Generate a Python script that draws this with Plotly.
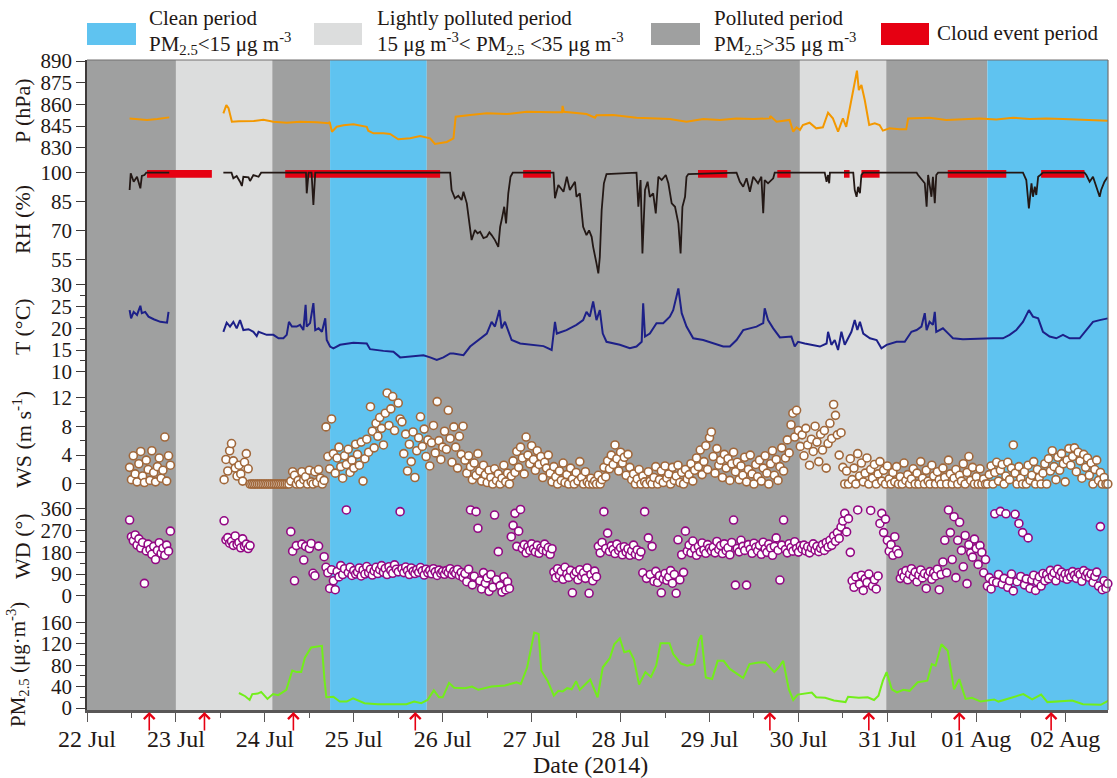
import plotly.graph_objects as go
import pandas as pd

# ---------------- DATA (hours since 22 Jul 2014 00:00) ----------------
BASE = pd.Timestamp("2014-07-22 00:00")

# background periods: (start_h, end_h, kind)
periods = [(0, 24, "polluted"), (24, 50, "light"), (50, 65.6, "polluted"), (65.6, 91.7, "clean"),
           (91.7, 192.4, "polluted"), (192.4, 215.7, "light"), (215.7, 243.0, "polluted"),
           (243.0, 275.55, "clean")]

# cloud events (start_h, end_h)
cloud_events = [(16.2, 33.7), (53.5, 95.3), (117.7, 125.2), (164.9, 172.8), (186.3, 189.9),
                (204.3, 205.8), (209.0, 213.9), (232.3, 248.1), (257.5, 269.2)]

# sampling arrows (hours)
arrow_hours = [16.8, 31.7, 55.7, 88.6, 184.3, 211.0, 235.4, 260.2]

# Pressure (hPa)
p_data = [(11.5, 850.3), (13, 849.8), (16.2, 849.2), (19, 849.8), (22.2, 851.0), (22.6, None),
          (36.8, 853.8), (37.6, 859.5), (38.2, 857.3), (39.1, 848.0), (41, 848.3), (45, 848.5),
          (47.6, 849.3), (50.3, 848.0), (53.9, 847.3), (57.5, 848.0), (62, 847.6), (65.2, 846.9),
          (65.5, 847.8), (66.1, 841.1), (67.4, 844.5), (69.2, 845.6), (71.9, 846.2), (75.5, 844.5),
          (75.9, 841.8), (77.3, 840.0), (80, 840.0), (81.8, 839.5), (84, 835.8), (87.2, 836.5),
          (89.9, 838.1), (92.6, 836.5), (93.9, 832.6), (97.1, 834.0), (98.9, 836.5), (99.5, 851.5),
          (103.4, 852.6), (107.9, 853.8), (113.3, 853.3), (118.7, 854.9), (125.8, 854.5),
          (128.2, 854.6), (128.35, 858.9), (128.7, 854.9), (134.8, 853.3), (137.1, 850.8),
          (137.5, 852.4), (142, 852.6), (148.3, 850.8), (152.8, 850.3), (157.3, 849.9),
          (161.8, 848.0), (166.3, 849.9), (170.8, 849.2), (175.3, 850.3), (179.8, 849.9),
          (184.3, 850.3), (184.4, 851.9), (186.1, 848.0), (189.6, 849.2), (190.6, 841.1),
          (191.5, 844.1), (192.4, 842.2), (193.2, 845.7), (195.0, 847.3), (196.8, 843.4),
          (198.6, 844.1), (200.0, 854.2), (201.3, 850.3), (202.7, 841.1), (204.0, 850.3),
          (204.9, 844.5), (206.3, 863.0), (207.2, 873.4), (207.8, 883.3), (208.3, 869.9),
          (209.0, 873.4), (209.9, 863.0), (211.1, 845.7), (212.6, 846.9), (213.9, 845.7),
          (214.8, 841.8), (216.6, 843.4), (219.3, 842.7), (221.1, 842.7), (221.6, 850.3),
          (227.4, 850.8), (231.9, 849.2), (236.4, 849.9), (240.9, 850.3), (245.4, 849.5),
          (249.9, 850.8), (254.4, 849.9), (258.9, 850.3), (263.4, 849.9), (267.9, 849.5),
          (272.4, 849.2), (275.5, 848.7)]

# Relative humidity (%)
rh_data = [(11.5, 91.0), (11.8, 99.7), (12.6, 95.3), (13.5, 97.9), (14.4, 91.9), (14.8, 98.3),
           (15.5, 98.8), (16.0, 100), (22.2, 100), (22.6, None),
           (36.8, 100), (39.0, 100), (39.5, 97.1), (40.4, 98.3), (41.3, 95.3), (41.8, 93.1),
           (42.2, 97.9), (43.6, 97.6), (44.0, 95.7), (44.9, 98.8), (46.3, 97.9), (47.0, 100),
           (59.1, 100), (59.3, 89.3), (59.8, 100), (60.6, 100), (61.1, 83.2), (61.6, 100),
           (98.0, 100), (98.4, 91.0), (99.3, 86.7), (100.2, 88.0), (101.1, 85.8), (101.6, 90.1),
           (102.5, 84.1), (103.4, 71.9), (103.8, 65.0), (104.7, 70.2), (105.4, 68.5), (106.1, 69.3),
           (107.0, 66.0), (107.9, 66.7), (108.6, 69.0), (109.2, 67.6), (110.1, 65.0), (111.0, 61.5),
           (111.5, 71.9), (111.9, 75.4), (112.6, 82.3), (113.1, 73.7), (113.7, 89.3), (114.3, 97.9),
           (114.9, 100), (125.9, 100), (126.3, 86.7), (127.2, 93.6), (128.6, 90.1), (129.5, 97.9),
           (130.3, 91.0), (131.7, 95.3), (132.1, 87.5), (133.0, 89.3), (133.9, 71.9), (134.8, 67.6),
           (135.5, 70.0), (136.2, 66.7), (136.6, 61.5), (137.5, 52.9), (138.0, 47.7), (138.4, 56.3),
           (138.9, 80.6), (139.5, 94.5), (140.2, 99.3), (148.3, 100), (148.8, 82.3), (149.4, 96.2),
           (149.9, 58.1), (150.6, 91.0), (151.3, 95.3), (151.9, 87.5), (152.8, 89.3), (153.5, 78.9),
           (154.2, 97.9), (155.1, 96.2), (156.2, 98.8), (156.9, 94.5), (157.8, 84.1), (158.7, 82.3),
           (159.6, 73.7), (160.2, 58.1), (160.7, 82.3), (161.4, 87.5), (161.8, 97.9), (162.3, 99.3),
           (175.3, 100), (176.2, 95.3), (177.1, 92.7), (178.0, 97.1), (178.9, 90.1), (179.8, 97.9),
           (181.1, 94.5), (182.0, 97.9), (182.5, 78.9), (182.9, 96.2), (183.8, 94.5), (185.2, 97.1),
           (185.6, 100), (199.1, 100), (199.6, 95.3), (200.0, 98.8), (200.3, 94.5), (200.5, 100),
           (206.8, 100), (207.2, 91.0), (207.7, 87.5), (208.1, 92.7), (208.6, 89.3), (209.0, 98.8),
           (209.5, 100), (223.9, 100), (224.3, 98.8), (226.1, 94.5), (226.6, 82.3), (227.0, 98.8),
           (227.9, 87.5), (228.3, 97.9), (228.8, 84.1), (229.2, 98.8), (229.7, 100), (252.6, 100),
           (253.5, 96.2), (254.2, 81.5), (254.9, 94.5), (255.3, 87.5), (255.8, 92.7), (256.2, 88.4),
           (256.7, 97.9), (257.3, 98.8), (258.0, 100), (269.2, 100), (269.7, 98.8), (270.6, 95.3),
           (271.5, 97.9), (272.4, 92.7), (273.3, 87.5), (273.7, 91.0), (274.6, 95.3), (275.5, 97.9)]

# Temperature (deg C)
t_data = [(11.5, 24.2), (11.9, 22.3), (12.6, 23.8), (13.5, 23.1), (14.4, 25.2), (14.8, 23.5),
          (15.7, 23.8), (16.6, 22.7), (18.0, 22.1), (19.8, 21.5), (21.6, 21.3), (22.0, 23.8), (22.4, None),
          (36.8, 19.2), (37.7, 21.3), (38.6, 20.4), (39.5, 21.5), (40.4, 20.0), (41.3, 21.9), (42.2, 19.6),
          (43.6, 19.8), (44.9, 19.2), (45.8, 18.2), (46.3, 19.2), (47.6, 18.8), (48.5, 18.5), (50.3, 18.5),
          (51.7, 17.7), (53.0, 17.7), (53.9, 18.5), (54.5, 21.5), (55.3, 20.4), (56.6, 20.4), (57.5, 20.8),
          (58.4, 19.6), (59.0, 25.4), (59.3, 20.4), (60.2, 21.2), (61.1, 25.8), (61.6, 19.6), (62.5, 20.0),
          (63.4, 19.2), (64.3, 22.3), (64.7, 17.3), (65.6, 15.8), (66.5, 15.4), (68.3, 16.2), (71.9, 16.7),
          (75.5, 16.5), (76.4, 15.2), (80.0, 14.8), (82.7, 14.6), (84.5, 13.3), (88.1, 13.6), (90.8, 13.8),
          (92.6, 13.3), (94.4, 12.7), (96.2, 13.3), (98.0, 14.2), (98.9, 14.2), (101.6, 13.8),
          (103.4, 15.8), (106.1, 17.7), (107.9, 18.8), (109.2, 21.5), (110.1, 20.4), (111.3, 24.2),
          (111.9, 20.0), (112.8, 21.5), (113.7, 19.6), (114.6, 17.3), (116.9, 16.5), (120.5, 16.2),
          (123.2, 15.9), (125.4, 15.0), (126.3, 21.5), (126.8, 18.8), (129.4, 19.6), (132.1, 20.8),
          (133.9, 21.9), (134.8, 23.8), (135.7, 22.7), (136.6, 26.2), (137.5, 21.9), (138.4, 24.2),
          (139.2, 18.8), (140.2, 16.9), (143.8, 16.2), (146.5, 15.4), (148.3, 15.8), (149.7, 16.9),
          (150.1, 25.8), (150.6, 18.1), (151.9, 18.8), (153.7, 21.2), (155.5, 21.2), (157.3, 22.7),
          (158.2, 24.2), (159.6, 29.2), (160.5, 23.5), (161.8, 20.4), (163.6, 17.7), (166.3, 17.3),
          (169.0, 16.5), (171.7, 15.8), (173.5, 15.8), (175.3, 17.3), (177.1, 19.6), (178.9, 20.0),
          (180.7, 20.4), (182.5, 21.2), (182.9, 24.6), (183.8, 21.9), (185.2, 20.0), (187.0, 17.9),
          (190.1, 18.1), (191.0, 15.8), (191.9, 16.9), (193.7, 16.5), (196.0, 16.2), (197.8, 15.8),
          (199.6, 16.5), (200.0, 19.2), (200.9, 16.2), (201.8, 17.3), (202.7, 15.0), (203.6, 19.2),
          (204.5, 16.2), (205.4, 17.7), (206.3, 19.2), (207.2, 21.9), (207.9, 19.6), (208.6, 21.5),
          (209.5, 18.8), (211.3, 17.7), (213.1, 17.3), (214.4, 15.4), (215.8, 16.2), (218.5, 16.9),
          (220.7, 16.9), (222.5, 19.2), (223.9, 19.6), (225.2, 20.4), (226.1, 23.5), (226.6, 19.6),
          (227.4, 21.5), (228.3, 20.8), (228.8, 23.8), (229.2, 19.2), (231.0, 20.0), (232.8, 18.5),
          (233.7, 17.7), (236.4, 17.5), (240.9, 17.7), (244.5, 17.7), (247.2, 17.7), (249.0, 18.5),
          (250.8, 19.6), (252.6, 21.5), (254.2, 24.2), (255.3, 22.7), (256.7, 22.3), (258.0, 19.2),
          (259.8, 18.1), (261.6, 17.7), (263.4, 18.5), (265.2, 17.7), (267.9, 17.7), (269.7, 19.6),
          (271.5, 21.5), (273.3, 21.9), (275.5, 22.3)]

# PM2.5 (ug m-3)
pm_data = [(41.0, 28), (42.7, 22), (43.9, 15), (44.6, 26), (46.1, 27), (47.0, 30), (48.7, 17),
           (50.2, 26), (51.6, 24), (53.8, 34), (55.4, 70), (56.6, 67), (57.8, 67), (58.8, 94),
           (60.5, 113), (63.4, 116), (64.1, 52), (64.6, 20), (66.5, 21), (68.2, 12), (70.1, 12),
           (71.8, 18), (74.9, 9), (78.5, 7), (86.2, 7), (88.3, 12), (90.2, 9), (91.9, 15), (93.6, 33),
           (95.0, 20), (96.0, 20), (97.7, 47), (99.1, 38), (102.0, 37), (103.9, 40), (105.6, 34),
           (109.2, 40), (112.8, 42), (115.9, 48), (117.1, 45), (118.8, 76), (120.7, 141), (121.9, 138),
           (122.6, 70), (124.3, 51), (126.0, 23), (127.2, 32), (128.4, 31), (129.6, 37), (130.8, 35),
           (132.0, 50), (133.0, 34), (135.8, 53), (137.8, 20), (139.2, 76), (141.1, 93), (142.3, 119),
           (143.8, 130), (145.0, 104), (146.4, 107), (147.6, 91), (149.0, 44), (150.7, 67), (152.2, 58),
           (153.6, 79), (154.8, 121), (157.2, 121), (158.2, 101), (160.3, 83), (162.0, 79), (163.9, 82),
           (165.1, 126), (165.8, 136), (167.0, 57), (168.7, 54), (170.2, 88), (171.8, 88), (173.5, 73),
           (177.1, 56), (178.8, 82), (181.2, 85), (183.1, 85), (185.5, 67), (186.7, 76), (187.9, 88),
           (189.4, 35), (190.6, 15), (191.8, 25), (195.6, 29), (196.8, 20), (199.2, 19), (201.6, 14),
           (204.7, 11), (205.4, 21), (208.3, 19), (210.7, 20), (212.4, 15), (213.6, 23), (214.8, 51),
           (215.8, 67), (217.2, 35), (218.6, 29), (220.3, 34), (222.0, 32), (224.2, 48), (226.8, 51),
           (228.0, 82), (229.0, 79), (230.6, 119), (232.3, 107), (234.0, 35), (235.4, 54), (237.1, 17),
           (238.8, 19), (241.2, 12), (244.8, 16), (246.0, 12), (249.1, 19), (252.7, 26), (255.1, 16),
           (257.5, 25), (259.2, 11), (265.9, 14), (268.8, 7), (273.6, 6), (275.8, 14)]

# Wind speed (m/s), 30-min samples. Segment 1 starts 22 Jul 11:30, segment 2 starts 23 Jul 13:00
ws_seg1_start, ws_seg2_start = 11.5, 37.0
ws_seg1 = [2.3, 0.6, 3.9, 1.4, 0.3, 2.8, 4.5, 1.1, 0.2, 3.3, 2.0, 0.5, 4.6, 1.6, 0.3, 2.4, 3.6, 0.8,
           1.9, 6.5, 0.4, 3.9, 2.6]
ws_seg2 = (
    [0.6, 3.4, 1.8, 4.6, 5.6, 3.2, 2.2, 1.1, 2.6, 1.4, 0.4, 3.0, 4.2, 2.1, 0, 0, 0, 0, 0, 0, 0, 0, 0, 0]
    + [0, 0, 0, 0, 0, 0, 0, 0, 0, 0, 0, 0, 0.4, 1.7, 1.2, 0, 0.5, 0, 1.7, 0.6, 1.0, 0, 1.9, 0.3]
    + [0, 1.7, 0.2, 2.0, 0.8, 0, 0.5, 7.9, 3.8, 2.1, 9.0, 4.2, 1.5, 3.6, 5.1, 2.4, 0.8, 3.9, 2.7, 4.8, 1.6, 3.3, 2.2, 5.5]
    + [4.1, 2.6, 5.8, 0.4, 3.5, 6.2, 4.4, 10.7, 7.3, 5.0, 8.4, 6.6, 9.2, 7.7, 5.4, 9.8, 12.6, 8.1, 10.4, 12.1, 7.4, 14.0, 11.2, 9.0]
    + [8.6, 4.2, 6.9, 1.8, 5.5, 3.1, 7.2, 0.9, 4.6, 6.4, 9.3, 5.2, 7.6, 3.8, 6.1, 2.5, 5.7, 8.1, 4.3, 11.4, 6.0, 3.4, 5.1, 7.3]
    + [4.8, 10.2, 6.3, 3.0, 7.9, 5.1, 2.2, 6.6, 4.1, 8.0, 3.3, 1.5, 3.9, 2.4, 0.6, 2.9, 1.2, 4.2, 1.8, 0.4, 2.6, 1.3, 0.2, 1.9]
    + [0.9, 0, 2.1, 0.5, 1.4, 0, 0.8, 2.6, 0.3, 1.5, 0, 1.1, 3.2, 1.6, 4.5, 2.3, 5.1, 3.6, 1.4, 6.5, 4.0, 2.8, 5.3, 3.4]
    + [1.9, 4.6, 2.7, 3.8, 0.9, 3.0, 2.2, 4.0, 1.5, 0.3, 2.4, 1.0, 0, 1.8, 0.5, 2.9, 0.2, 1.3, 0, 2.2, 0.7, 0, 1.6, 0.4]
    + [3.1, 0.9, 0, 1.7, 0.3, 0, 0.8, 0, 0.4, 0, 1.2, 0, 0.6, 2.3, 1.0, 3.2, 2.1, 4.0, 2.7, 5.4, 3.5, 1.8, 4.4, 2.9]
    + [3.7, 1.2, 4.1, 2.3, 0.6, 1.4, 0, 0.7, 2.0, 0, 1.1, 0.3, 0, 1.7, 0.4, 0, 0.9, 2.4, 0, 0.6, 1.8, 0.2, 2.5, 0.8]
    + [1.4, 0, 2.3, 0.5, 1.1, 2.6, 0.2, 1.6, 0, 2.0, 0.7, 1.3, 2.8, 0.4, 1.9, 3.6, 2.4, 4.7, 1.3, 3.1, 5.3, 2.0, 6.4, 7.2]
    + [3.8, 1.5, 4.9, 2.6, 3.3, 0.9, 4.1, 2.2, 3.5, 0.5, 2.8, 4.4, 1.7, 3.0, 0.6, 2.5, 1.2, 3.7, 0.3, 2.0, 4.0, 1.4, 0, 2.7]
    + [1.0, 3.3, 0.4, 2.2, 3.9, 1.5, 0, 2.8, 4.6, 1.2, 3.4, 0.5, 2.4, 5.0, 1.8, 3.6, 6.1, 4.3, 8.2, 9.8, 6.5, 10.2, 7.4, 5.2]
    + [6.8, 3.9, 7.7, 5.4, 2.6, 6.2, 4.5, 8.0, 5.8, 3.1, 6.9, 4.7, 7.4, 2.2, 5.6, 8.4, 6.3, 11.0, 9.5, 6.8, 4.0, 7.1, 2.3, 0]
    + [1.8, 0, 3.5, 0.6, 2.2, 0, 4.2, 1.1, 2.9, 0.3, 1.5, 3.6, 0, 2.0, 0.8, 2.7, 0, 1.4, 3.1, 0.4, 1.9, 0, 2.5, 0.7]
    + [0, 1.6, 0.3, 2.4, 0, 1.0, 0, 2.9, 0.5, 1.3, 0, 0.7, 2.1, 0, 1.5, 0, 3.1, 0.8, 0, 1.9, 0.4, 0, 2.6, 1.1]
    + [0, 1.7, 0.6, 0, 2.2, 0.9, 0, 3.3, 1.4, 0, 0.8, 2.0, 0, 1.2, 0.4, 2.8, 0, 1.6, 3.8, 0.5, 2.3, 0, 1.0, 0]
    + [2.1, 0, 0.7, 0, 0, 1.3, 2.5, 0, 1.6, 3.0, 0.4, 1.9, 2.7, 0, 1.1, 3.0, 0.6, 2.2, 5.4, 1.5, 0, 2.4, 0.8, 0]
    + [1.7, 0, 2.6, 0.5, 1.2, 3.1, 0, 2.0, 0.9, 0, 1.5, 2.8, 0, 3.5, 1.8, 4.6, 2.4, 0.6, 3.7, 1.9, 4.2, 2.8, 0.3, 3.3]
    + [4.9, 2.6, 3.8, 5.0, 1.7, 4.4, 3.2, 0.8, 4.1, 2.3, 3.6, 1.2, 2.9, 0, 2.0, 3.3, 0.5, 1.6, 0, 0.9, 0, 0]
)

# Wind direction (deg), same 30-min grid as wind speed (None = calm / missing)
N = None
wd_seg1 = [314, 245, 228, 252, 210, 236, 198, 221, 51, 186, 214, 192, 172, 205, 150, 188, 220, 176,
           197, 168, 210, 185, 268]
wd_seg2 = (
    [311, 232, 241, 218, 226, 209, 248, 213, 221, 199, 236, 205, 214, 196, 208, N, N, N, N, N, N, N, N, N]
    + [N, N, N, N, N, N, N, N, N, N, N, N, 266, 185, 62, 208, N, N, 214, 148, 205, N, 196, 217]
    + [93, 83, N, 206, N, N, 162, 118, 95, 30, 108, 62, 25, 101, 78, 125, 88, 112, 356, 96, 118, 84, 104, 90]
    + [98, 115, 82, 107, 90, 121, 95, 110, 86, 103, 118, 92, 108, 125, 97, 113, 88, 120, 105, 93, 128, 110, 99, 349]
    + [112, 96, 119, 104, 88, 115, 101, 92, 108, 97, 117, 103, 86, 110, 95, 105, 91, 112, 99, 84, 106, 93, 101, 89]
    + [104, 96, 112, 88, 101, 93, 109, 84, 97, 76, 92, 58, 110, 356, 45, 81, 349, 280, 62, 28, 96, 52, 74, 18]
    + [88, 35, 335, 66, 183, 42, 15, 79, 24, 58, 30, 245, 292, 342, 205, 268, 358, 196, 212, 178, 203, 188, 215, 194]
    + [182, 209, 176, 198, 190, 214, 185, 200, 172, 195, 98, 75, 112, 84, 101, 68, 118, 90, 76, 105, 12, 87, 99, 66]
    + [108, 81, 95, 72, 115, 10, 88, 62, 102, 79, 205, 178, 221, 349, 196, 260, 184, 207, 192, 175, 214, 188, 199, 170]
    + [203, 181, 195, 168, 186, 210, 172, 190, 165, 182, 95, 349, 72, 240, 88, 205, 60, 101, 55, 83, 12, 70, 92, 64]
    + [78, 104, 52, 88, 10, 232, 66, 170, 97, 268, 185, 210, 178, 227, 195, 168, 204, 182, 219, 190, 176, 212, 197, 186]
    + [201, 178, 225, 192, 208, 175, 215, 187, 199, 170, 221, 314, 44, 196, 182, 230, 205, 188, 44, 212, 193, 176, 218, 201]
    + [186, 209, 172, 222, 195, 180, 214, 198, 168, 205, 240, 189, 65, 210, 314, 192, 178, 216, 200, 185, 224, 196, 181, 207]
    + [194, 210, 186, 203, 178, 199, 215, 190, 205, 183, 197, 212, 188, 221, 202, 230, 209, 248, 226, 262, 238, 285, 310, 342]
    + [265, 320, 180, 62, 35, 78, 356, 48, 85, 22, 70, 55, 90, 354, 40, 66, 28, 82, 300, 342, 262, 318, 230, 185]
    + [212, 168, 245, 190, 175, 72, 95, 80, 104, 66, 90, 112, 78, 98, 58, 86, 107, 74, 92, 30, 84, 100, 68, 95]
    + [82, 110, 25, 88, 140, 230, 95, 356, 262, 150, 328, 75, 230, 305, 188, 120, 250, 50, 212, 178, 160, 235, 196, 130]
    + [208, 180, 95, 150, 40, 75, 28, 60, 340, 55, 88, 350, 48, 72, 340, 35, 62, 90, 20, 338, 58, 300, 80, 262]
    + [45, 70, 240, 30, 65, 85, 22, 58, 78, 40, 92, 62, 88, 70, 105, 80, 95, 62, 110, 84, 98, 75, 90, 68]
    + [92, 78, 100, 85, 72, 96, 88, 60, 104, 82, 94, 76, 90, 55, 80, 98, 40, 287, 25, 62, 30, 50]
)

x_end_h = 275.55

# ---------------- STYLE / LAYOUT ----------------
W, H = 1117, 778
ML, MR, MT, MB = 87, 9, 60, 68
PW, PH = W - ML - MR, H - MT - MB
FONT = "Liberation Serif, Times New Roman, serif"
INK = "#231815"
AXC = "#3e3a39"
COL = {"polluted": "#9fa0a0", "light": "#dcdddd", "clean": "#5fc3f0"}
RED = "#e60012"


def tm(h):
    return BASE + pd.Timedelta(hours=h)


def pxx(x):
    return (x - ML) / PW


def pxy(y):
    return (H - MB - y) / PH


fig = go.Figure()


def add_line(data, color, yaxis, width):
    fig.add_trace(go.Scatter(x=[tm(h) for h, v in data], y=[v for h, v in data], mode="lines",
                             line=dict(color=color, width=width), yaxis=yaxis, connectgaps=False,
                             hoverinfo="skip", showlegend=False))


def grid_times(start, n):
    return [tm(start + 0.5 * i) for i in range(n)]


ws_x = grid_times(ws_seg1_start, len(ws_seg1)) + grid_times(ws_seg2_start, len(ws_seg2))
wd_x = grid_times(ws_seg1_start, len(wd_seg1)) + grid_times(ws_seg2_start, len(wd_seg2))

add_line(p_data, "#f39800", "y", 2)
add_line(rh_data, INK, "y2", 1.8)
add_line(t_data, "#1d2088", "y3", 2)
fig.add_trace(go.Scatter(x=ws_x, y=ws_seg1 + ws_seg2, mode="markers", yaxis="y4", cliponaxis=False,
                         marker=dict(symbol="circle", size=8, color="white",
                                     line=dict(color="#a0673a", width=1.6)),
                         hoverinfo="skip", showlegend=False))
fig.add_trace(go.Scatter(x=wd_x, y=wd_seg1 + wd_seg2, mode="markers", yaxis="y5", cliponaxis=False,
                         marker=dict(symbol="circle", size=8, color="white",
                                     line=dict(color="#920783", width=1.6)),
                         hoverinfo="skip", showlegend=False))
add_line(pm_data, "#72ee1a", "y6", 2)

shapes = []
for s, e, k in periods:
    shapes.append(dict(type="rect", xref="x", yref="paper", x0=tm(s), x1=tm(e), y0=0, y1=1,
                       fillcolor=COL[k], line=dict(width=0), layer="below"))
for s, e in cloud_events:
    shapes.append(dict(type="rect", xref="x", yref="y2", x0=tm(s), x1=tm(e), y0=97.4, y1=101.4,
                       fillcolor=RED, line=dict(width=0), layer="below"))
# top / right frame
shapes.append(dict(type="line", xref="paper", yref="paper", x0=0, x1=1, y0=1, y1=1,
                   line=dict(color="#727171", width=1.2)))
shapes.append(dict(type="line", xref="paper", yref="paper", x0=1, x1=1, y0=0, y1=1,
                   line=dict(color="#727171", width=1.2)))

# legend boxes
leg_boxes = [(87, 136, COL["clean"]), (314, 362, COL["light"]), (651, 700, COL["polluted"]), (881, 929, RED)]
for x0, x1, c in leg_boxes:
    shapes.append(dict(type="rect", xref="paper", yref="paper", x0=pxx(x0), x1=pxx(x1),
                       y0=pxy(45), y1=pxy(23), fillcolor=c, line=dict(width=0)))

annotations = []
leg_texts = [
    (147, 18, "Clean period"),
    (147, 44, "PM<sub>2.5</sub>&lt;15 μg m<sup>-3</sup>"),
    (375, 18, "Lightly polluted period"),
    (375, 44, "15 μg m<sup>-3</sup>&lt; PM<sub>2.5</sub> &lt;35 μg m<sup>-3</sup>"),
    (712, 18, "Polluted period"),
    (712, 44, "PM<sub>2.5</sub>&gt;35 μg m<sup>-3</sup>"),
    (935, 33, "Cloud event period"),
]
for x, y, t in leg_texts:
    annotations.append(dict(xref="paper", yref="paper", x=pxx(x), y=pxy(y), text=t, showarrow=False,
                            xanchor="left", yanchor="middle", font=dict(family=FONT, size=21, color=INK)))

ytitles = [(22, 111, 22, "P (hPa)"), (22, 220, 22, "RH (%)"), (22, 327, 22, "T (°C)"),
           (22, 440, 22, "WS (m s<sup>-1</sup>)"), (22, 546, 22, "WD (°)"),
           (17, 665, 21, "PM<sub>2.5</sub> (μg·m<sup>-3</sup>)")]
for x, y, fs, t in ytitles:
    annotations.append(dict(xref="paper", yref="paper", x=pxx(x), y=pxy(y), text=t, showarrow=False,
                            textangle=-90, xanchor="center", yanchor="middle",
                            font=dict(family=FONT, size=fs, color=INK)))
annotations.append(dict(xref="paper", yref="paper", x=pxx(590), y=pxy(765), text="Date (2014)",
                        showarrow=False, xanchor="center", yanchor="middle",
                        font=dict(family=FONT, size=24, color=INK)))
for h in arrow_hours:
    annotations.append(dict(xref="x", yref="paper", x=tm(h), y=pxy(712), text="", showarrow=True,
                            ax=0, ay=20, arrowhead=4, arrowsize=1.3, arrowwidth=1.6, arrowcolor=RED))


def yax(top, bottom, rng, tickvals, minor=None):
    d = dict(domain=[pxy(bottom), pxy(top)], range=rng, tickvals=tickvals, anchor="x",
             automargin=False, fixedrange=True,
             showline=True, linecolor=AXC, linewidth=1.5, ticks="outside", ticklen=9, tickwidth=1.3,
             tickcolor=AXC, showgrid=False, zeroline=False,
             tickfont=dict(family=FONT, size=21, color=INK))
    if minor:
        d["minor"] = dict(tickvals=minor, ticks="outside", ticklen=5, tickwidth=1.2, tickcolor=AXC,
                          showgrid=False)
    return d


fig.update_layout(
    width=W, height=H, margin=dict(l=ML, r=MR, t=MT, b=MB, pad=0, autoexpand=False),
    paper_bgcolor="white", plot_bgcolor="white", showlegend=False,
    xaxis=dict(domain=[0, 1], anchor="y6", type="date", range=[tm(0), tm(x_end_h)],
               automargin=False, fixedrange=True, ticklabelstandoff=-4,
               tick0=BASE, dtick=86400000, tickformat="%d %b", ticks="outside", ticklen=9,
               tickwidth=1.3, tickcolor="#595757", showline=True, linecolor="#595757", linewidth=2.5,
               showgrid=False, zeroline=False, tickfont=dict(family=FONT, size=24, color=INK),
               minor=dict(dtick=43200000, ticks="outside", ticklen=5, tickwidth=1.2,
                          tickcolor="#595757", showgrid=False)),
    yaxis=yax(60, 160, [821.5, 890.7], [830, 845, 860, 875, 890]),
    yaxis2=yax(160, 278, [45.3, 106.6], [55, 70, 85, 100]),
    yaxis3=yax(278, 385, [6.93, 31.61], [10, 15, 20, 25, 30], [12.5, 17.5, 22.5, 27.5]),
    yaxis4=yax(385, 497, [-1.8, 13.7], [0, 4, 8, 12], [2, 6, 10]),
    yaxis5=yax(497, 605, [-38.6, 409.8], [0, 90, 180, 270, 360], [45, 135, 225, 315]),
    yaxis6=yax(605, 710, [-3.73, 192.3], [0, 40, 80, 120, 160], [20, 60, 100, 140]),
    shapes=shapes, annotations=annotations,
)

fig.write_html("out.html", config={"displayModeBar": False},
               post_script="document.body.style.margin='0';document.body.style.overflow='hidden';")
